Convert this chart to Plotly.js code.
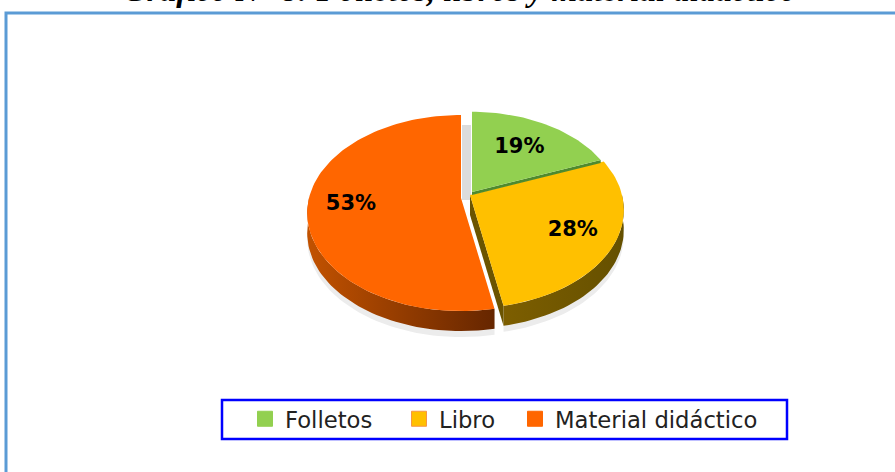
<!DOCTYPE html>
<html>
<head>
<meta charset="utf-8">
<script src="https://cdn.plot.ly/plotly-3.0.1.min.js"></script>
<style>html,body{margin:0;padding:0;background:#fff;overflow:hidden}#chart{width:895px;height:472px}</style>
</head>
<body>
<div id="chart"></div>
<script>
// Data
var categories = ['Folletos', 'Libro', 'Material didáctico'];
var values = [19, 28, 53];
var colors = ['#92d050', '#ffc000', '#ff6600'];
var titleText = 'Gráfico N° 8: Folletos, libros y material didáctico';

// Drawing geometry (tilted, exploded 3-D pie projected on a pixel-scaled axis pair)
var A = 152, B = 95.8, K = 0.153, DEPTH = 20;
var apexes = [[472, 192], [470, 195], [461, 198]];
var radiusScale = [0.96, 1, 1];
var labelFrac = [0.62, 0.73, 0.72];
var wallDepth = [3, 20, 0];
var bandColors = [null, ['#7d5e00', '#655000'], ['#c25200', '#662600']];
var wallColors = ['#4f8a2e', '#6b5400', '#662600'];
var legendLeft = [245, 399, 515];
var legendEdge = ['#92d050', '#f79646', '#ff6600'];

function project(i, pct, f) {
  var t = pct / 100 * 2 * Math.PI, s = radiusScale[i] * f;
  var u = s * Math.sin(t), v = s * Math.cos(t), w = 1 + K * v;
  return [apexes[i][0] + A * u / w, apexes[i][1] - B * v / w];
}
function arc(i, from, to, dy) {
  var pts = [], n = Math.max(2, Math.ceil(Math.abs(to - from) * 2));
  for (var k = 0; k <= n; k++) {
    var p = project(i, from + (to - from) * k / n, 1);
    pts.push([p[0], p[1] + (dy || 0)]);
  }
  return pts;
}
function polyTrace(pts, color, gradient) {
  var closed = pts.concat([pts[0]]);
  var t = {
    x: closed.map(function (p) { return p[0]; }),
    y: closed.map(function (p) { return p[1]; }),
    mode: 'lines', line: {width: 0, color: color}, fill: 'toself', fillcolor: color,
    hoverinfo: 'skip', showlegend: false
  };
  if (gradient) t.fillgradient = {type: 'horizontal', colorscale: [[0, gradient[0]], [1, gradient[1]]]};
  return t;
}

var traces = [], start = 0, ranges = [], labelX = [], labelY = [], labelText = [];
values.forEach(function (val, i) {
  ranges.push([start, start + val]);
  var mid = project(i, start + val / 2, labelFrac[i]);
  labelX.push(mid[0]); labelY.push(mid[1]); labelText.push(val + '%');
  start += val;
});

// soft shadow under the pie
ranges.forEach(function (r, i) {
  var a = Math.max(r[0], 25), b = Math.min(r[1], 75);
  if (b <= a) return;
  traces.push(polyTrace(arc(i, a, b, 0).concat(arc(i, b, a, DEPTH + 6)), '#ececec'));
});
// outer rim
ranges.forEach(function (r, i) {
  var a = Math.max(r[0], 25), b = Math.min(r[1], 75);
  if (b <= a) return;
  traces.push(polyTrace(arc(i, a, b, 0).concat(arc(i, b, a, DEPTH)), wallColors[i], bandColors[i]));
});
// cut faces and top faces
[1, 2, 0].forEach(function (i) {
  var r = ranges[i], ap = apexes[i], d = wallDepth[i];
  if (d) {
    var end = project(i, r[1], 1);
    traces.push(polyTrace([ap, [ap[0], ap[1] + d], [end[0], end[1] + d], end], wallColors[i]));
  }
  traces.push(polyTrace([ap].concat(arc(i, r[0], r[1], 0)), colors[i]));
});

// data labels
traces.push({
  x: labelX, y: labelY, text: labelText, mode: 'text', textposition: 'middle center',
  textfont: {family: 'DejaVu Sans', size: 21, color: '#000', weight: 700},
  hoverinfo: 'skip', showlegend: false
});
// legend entries, one legend per entry so that each sits where the reference has it
var layoutLegends = {};
categories.forEach(function (c, i) {
  var id = i === 0 ? 'legend' : 'legend' + (i + 1);
  traces.push({
    x: [null], y: [null], name: c, mode: 'markers', hoverinfo: 'skip', legend: id, showlegend: true,
    marker: {symbol: 'square', size: 15, color: colors[i], line: {color: legendEdge[i], width: 1}}
  });
  layoutLegends[id] = {
    x: legendLeft[i] / 895, xanchor: 'left', y: 1 - 419 / 472, yanchor: 'middle',
    bgcolor: 'rgba(0,0,0,0)', borderwidth: 0, itemwidth: 30,
    font: {family: 'DejaVu Sans', size: 22.7, color: '#222'},
    itemclick: false, itemdoubleclick: false
  };
});

var layout = Object.assign({
  width: 895, height: 472,
  margin: {l: 0, r: 0, t: 0, b: 0},
  paper_bgcolor: '#fff', plot_bgcolor: '#fff',
  hovermode: false, dragmode: false,
  xaxis: {range: [0, 895], visible: false, fixedrange: true},
  yaxis: {range: [472, 0], visible: false, fixedrange: true},
  showlegend: true,
  annotations: [{
    text: '<b><i>' + titleText + '</i></b>', xref: 'paper', yref: 'paper',
    x: 0.513, y: 0.978, xanchor: 'center', yanchor: 'bottom', showarrow: false,
    font: {family: 'Liberation Serif', size: 33, color: '#000'}
  }],
  shapes: [
    {type: 'rect', layer: 'below', x0: 6, y0: 13, x1: 900, y1: 480, line: {color: '#5b9bd5', width: 3}, fillcolor: '#fff'},
    {type: 'rect', layer: 'below', x0: 462, y0: 125, x1: 471, y1: 200, line: {width: 0}, fillcolor: '#dcdcdc'},
    {type: 'rect', layer: 'above', x0: 222, y0: 400, x1: 787, y1: 439, line: {color: '#0000ff', width: 2.5}}
  ]
}, layoutLegends);
Plotly.newPlot('chart', traces, layout, {staticPlot: true, displayModeBar: false});
</script>
</body>
</html>
